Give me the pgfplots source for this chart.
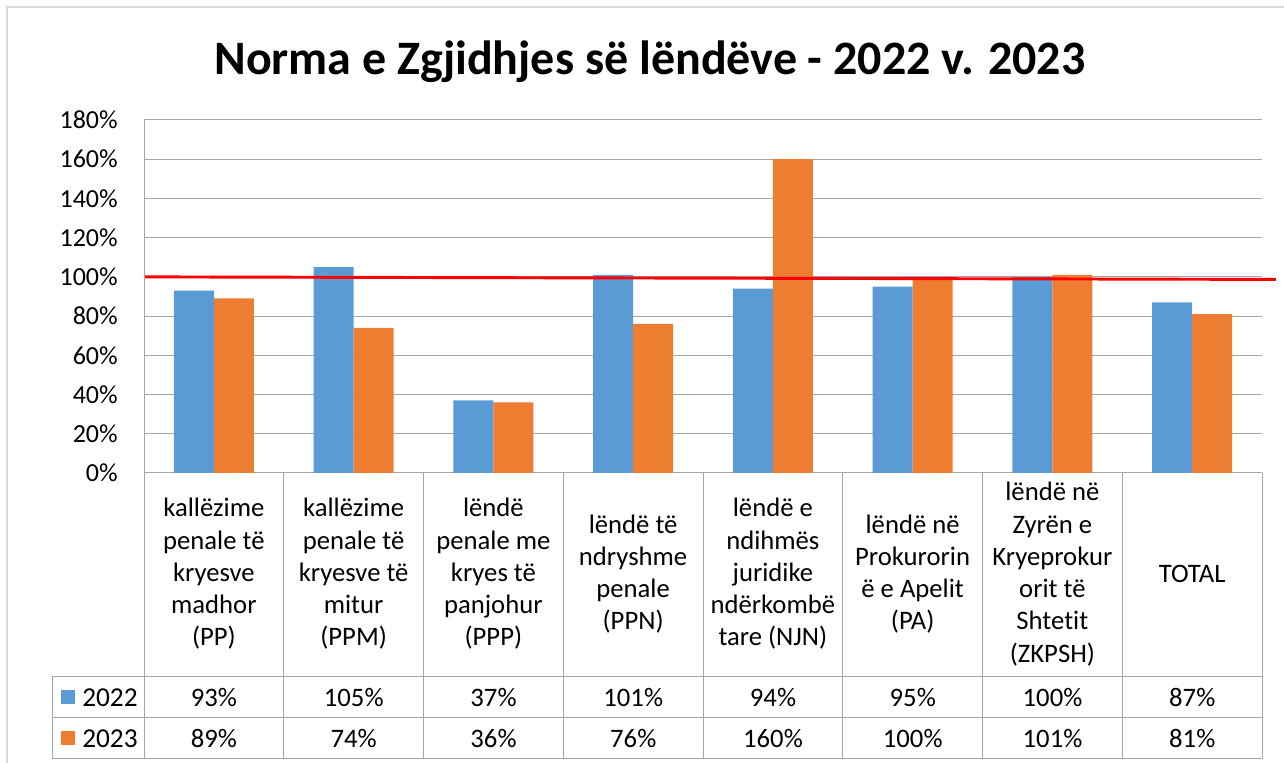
\documentclass[border=0pt]{standalone}
\usepackage{pgfplots}
\pgfplotsset{compat=1.18}
\usepackage{fontspec}
\setmainfont{Carlito}[Ligatures=NoCommon]
\definecolor{b22}{HTML}{5B9BD5}
\definecolor{o23}{HTML}{ED7D31}
\definecolor{gridg}{HTML}{A6A6A6}
\definecolor{frameg}{HTML}{D9D9D9}
\begin{document}
\begin{tikzpicture}
\begin{scope}[x=0.75pt,y=-0.75pt,yshift=572.25pt]
\useasboundingbox (0,0) rectangle (1284,763);
\draw[frameg, line width=1pt] (7,763) -- (7,7) -- (1284,7);
\node[font=\fontsize{36}{42}\selectfont\bfseries] at (650,62) {Norma e Zgjidhjes së lëndëve - 2022 v. 2023};
\end{scope}
\begin{axis}[at={(108pt,217.5pt)}, anchor=south west, scale only axis,
  width=838.5pt, height=264.75pt,
  xmin=-0.5, xmax=7.5, ymin=0, ymax=180,
  ytick={0,20,...,180},
  yticklabel={\pgfmathprintnumber{\tick}\%},
  /pgf/number format/assume math mode=true,
  xtick={0,...,7},
  xticklabels={{kallëzime\\penale të\\kryesve\\madhor\\(PP)},
    {kallëzime\\penale të\\kryesve të\\mitur\\(PPM)},
    {lëndë\\penale me\\kryes të\\panjohur\\(PPP)},
    {lëndë të\\ndryshme\\penale\\(PPN)},
    {lëndë e\\ndihmës\\juridike\\ndërkombë\\tare (NJN)},
    {lëndë në\\Prokurorin\\ë e Apelit\\(PA)},
    {lëndë në\\Zyrën e\\Kryeprokur\\orit të\\Shtetit\\(ZKPSH)},
    {TOTAL}},
  xticklabel style={align=center, anchor=center, yshift=-75.75pt, font=\fontsize{20}{24.2}\selectfont},
  yticklabel style={font=\fontsize{19.5}{24}\selectfont, anchor=east, inner sep=0pt, xshift=-19.5pt},
  major tick length=0pt,
  axis line style={draw=none},
  ymajorgrids, grid style={gridg, line width=0.75pt},
  ybar, bar width=0.286,
  clip=false,
]
\addplot[draw=none, fill=b22, bar shift=-0.143] coordinates {(0,93) (1,105) (2,37) (3,101) (4,94) (5,95) (6,100) (7,87)};
\addplot[draw=none, fill=o23, bar shift=0.143] coordinates {(0,89) (1,74) (2,36) (3,76) (4,160) (5,100) (6,101) (7,81)};
\addplot[sharp plot, red, line width=2.2pt, mark=none] coordinates {(-0.5,100) (7.6,98.7)};
\end{axis}
\begin{scope}[x=0.75pt,y=-0.75pt,yshift=572.25pt]
\draw[gridg, line width=0.75pt] (144,120) -- (144,759);
\foreach \i in {1,...,8} \draw[gridg, line width=0.75pt] ({144+139.75*\i},473) -- ({144+139.75*\i},759);
\draw[gridg, line width=0.75pt] (52,677) -- (1262,677) (52,718) -- (1262,718) (52,759) -- (1262,759) (52,677) -- (52,759);
\fill[b22] (61,690) rectangle (75,704);
\fill[o23] (61,731) rectangle (75,745);
\node[anchor=west, font=\fontsize{20.5}{24}\selectfont, inner sep=0pt] at (82,698) {2022};
\node[anchor=west, font=\fontsize{20.5}{24}\selectfont, inner sep=0pt] at (82,739) {2023};
\foreach \v [count=\i from 0] in {93,105,37,101,94,95,100,87}
  \node[font=\fontsize{20}{24}\selectfont] at ({214+139.75*\i},698) {\v\%};
\foreach \v [count=\i from 0] in {89,74,36,76,160,100,101,81}
  \node[font=\fontsize{20}{24}\selectfont] at ({214+139.75*\i},739) {\v\%};
\end{scope}
\end{tikzpicture}
\end{document}
